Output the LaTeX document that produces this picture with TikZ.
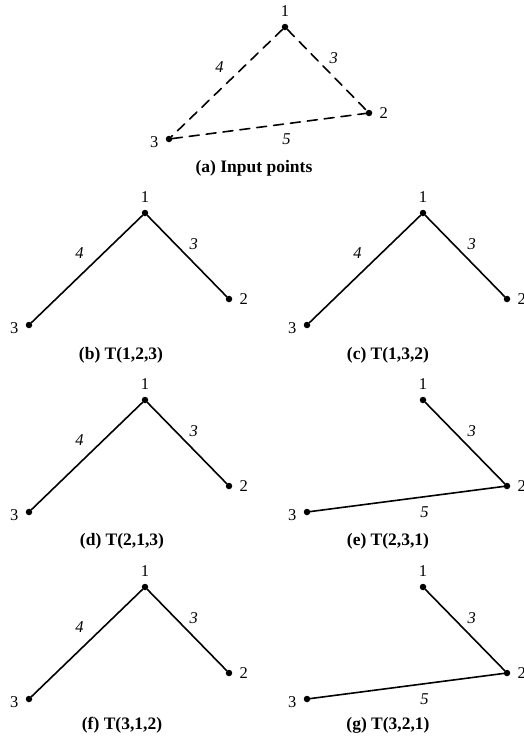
\documentclass[tikz,border=0pt]{standalone}
\usepackage{fontspec}
\setmainfont{Liberation Serif}

\begin{document}
\begin{tikzpicture}[x=1pt,y=-1pt,line cap=round,label distance=7pt,
  pt/.style={circle,fill,inner sep=0pt,minimum size=6.5pt},
  lbl/.style={inner sep=0pt,font=\fontsize{16.5}{19}\selectfont},
  wt/.style={inner sep=0pt,font=\fontsize{16.5}{19}\selectfont\itshape},
  captext/.style={font=\fontsize{17.5}{20}\selectfont\bfseries},
  seg/.style={line width=1.6pt},
  dseg/.style={line width=1.6pt,dash pattern=on 10pt off 7pt},
  w12/.style={pos=0.47,shift={(9pt,9pt)}},
  w13/.style={pos=0.46,shift={(-12pt,12pt)}},
  w32/.style={pos=0.58,shift={(2pt,-15pt)}}]
\useasboundingbox (0,0) rectangle (523,742);
% (a) input points
\node[pt,label={[lbl]above:1}] (a1) at (285,27) {};
\node[pt,label={[lbl]right:2}] (a2) at (369,113) {};
\node[pt,label={[lbl,yshift=-3pt]left:3}] (a3) at (169,139) {};
\draw[dseg] (a1) -- node[wt,w13]{4} (a3);
\draw[dseg] (a1) -- node[wt,w12]{3} (a2);
\draw[dseg] (a3) -- node[wt,w32]{5} (a2);
\node[captext] (capa) at (254,168) {(a) Input points};
% (b)
\node[pt,label={[lbl]above:1}] (b1) at (145,213) {};
\node[pt,label={[lbl]right:2}] (b2) at (229,299) {};
\node[pt,label={[lbl,yshift=-3pt]left:3}] (b3) at (29,325) {};
\draw[seg] (b1) -- node[wt,w13]{4} (b3);
\draw[seg] (b1) -- node[wt,w12]{3} (b2);
\node[captext] (capb) at (121,355) {(b) T(1,2,3)};
% (c)
\node[pt,label={[lbl]above:1}] (c1) at (423,213) {};
\node[pt,label={[lbl]right:2}] (c2) at (507,299) {};
\node[pt,label={[lbl,yshift=-3pt]left:3}] (c3) at (307,325) {};
\draw[seg] (c1) -- node[wt,w13]{4} (c3);
\draw[seg] (c1) -- node[wt,w12]{3} (c2);
\node[captext] (capc) at (388,355) {(c) T(1,3,2)};
% (d)
\node[pt,label={[lbl]above:1}] (d1) at (145,400) {};
\node[pt,label={[lbl]right:2}] (d2) at (229,486) {};
\node[pt,label={[lbl,yshift=-3pt]left:3}] (d3) at (29,512) {};
\draw[seg] (d1) -- node[wt,w13]{4} (d3);
\draw[seg] (d1) -- node[wt,w12]{3} (d2);
\node[captext] (capd) at (122,541) {(d) T(2,1,3)};
% (e)
\node[pt,label={[lbl]above:1}] (e1) at (423,400) {};
\node[pt,label={[lbl]right:2}] (e2) at (507,486) {};
\node[pt,label={[lbl,yshift=-3pt]left:3}] (e3) at (307,512) {};
\draw[seg] (e1) -- node[wt,w12]{3} (e2);
\draw[seg] (e3) -- node[wt,w32]{5} (e2);
\node[captext] (cape) at (388,541) {(e) T(2,3,1)};
% (f)
\node[pt,label={[lbl]above:1}] (f1) at (145,587) {};
\node[pt,label={[lbl]right:2}] (f2) at (229,673) {};
\node[pt,label={[lbl,yshift=-3pt]left:3}] (f3) at (29,699) {};
\draw[seg] (f1) -- node[wt,w13]{4} (f3);
\draw[seg] (f1) -- node[wt,w12]{3} (f2);
\node[captext] (capf) at (122,725) {(f) T(3,1,2)};
% (g)
\node[pt,label={[lbl]above:1}] (g1) at (423,587) {};
\node[pt,label={[lbl]right:2}] (g2) at (507,673) {};
\node[pt,label={[lbl,yshift=-3pt]left:3}] (g3) at (307,699) {};
\draw[seg] (g1) -- node[wt,w12]{3} (g2);
\draw[seg] (g3) -- node[wt,w32]{5} (g2);
\node[captext] (capg) at (388,725) {(g) T(3,2,1)};
\end{tikzpicture}
\end{document}
